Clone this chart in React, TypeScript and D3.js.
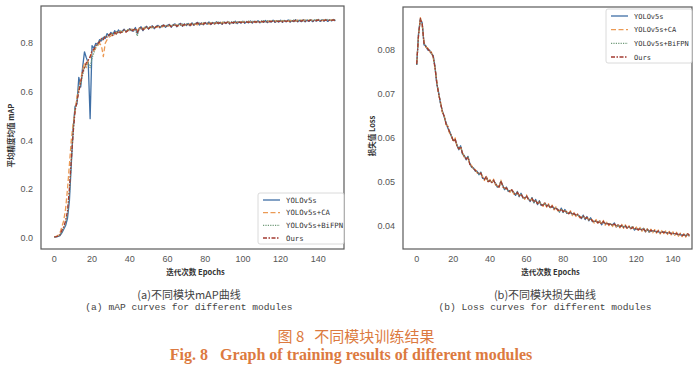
import React from "react";
import * as d3 from "d3";

const epochs: number[] = Array.from({ length: 150 }, (_, i) => i);
const seriesNames = ["YOLOv5s", "YOLOv5s+CA", "YOLOv5s+BiFPN", "Ours"];
const seriesColors = ["#3f6fa6", "#eb9a55", "#6f9a78", "#a23a30"];
const seriesDash = ["", "5,2.5", "1.2,1.2", "4,1.5,1.5,1.5"];

const xTicks = [0, 20, 40, 60, 80, 100, 120, 140];
const mapTicks = [0.0, 0.2, 0.4, 0.6, 0.8];
const lossTicks = [0.04, 0.05, 0.06, 0.07, 0.08];

const mapYolo = [0.002,0.003,0.005,0.008,0.020,0.035,0.050,0.080,0.150,0.300,
0.450,0.540,0.550,0.660,0.620,0.700,0.765,0.740,0.720,0.490,
0.790,0.780,0.800,0.795,0.815,0.810,0.825,0.820,0.840,0.830,
0.845,0.835,0.852,0.840,0.855,0.845,0.850,0.858,0.848,0.855,
0.860,0.852,0.850,0.865,0.840,0.862,0.868,0.852,0.864,0.870,
0.858,0.868,0.872,0.860,0.870,0.874,0.864,0.872,0.876,0.866,
0.874,0.878,0.866,0.876,0.880,0.868,0.878,0.882,0.870,0.880,
0.873,0.882,0.872,0.884,0.874,0.882,0.886,0.875,0.884,0.876,
0.886,0.878,0.888,0.877,0.886,0.879,0.889,0.880,0.887,0.878,
0.888,0.881,0.890,0.879,0.888,0.882,0.891,0.881,0.889,0.883,
0.891,0.882,0.890,0.884,0.892,0.883,0.891,0.885,0.893,0.884,
0.892,0.886,0.894,0.885,0.892,0.887,0.895,0.886,0.893,0.887,
0.895,0.886,0.894,0.888,0.896,0.887,0.894,0.889,0.897,0.888,
0.895,0.889,0.897,0.888,0.896,0.890,0.897,0.889,0.896,0.891,
0.898,0.890,0.897,0.891,0.898,0.890,0.897,0.892,0.898,0.892];

const mapCA = [0.003,0.005,0.010,0.020,0.045,0.070,0.120,0.200,0.300,0.400,
0.470,0.520,0.580,0.610,0.650,0.690,0.720,0.700,0.730,0.740,
0.760,0.770,0.780,0.790,0.800,0.790,0.745,0.800,0.815,0.825,
0.830,0.840,0.836,0.846,0.840,0.850,0.845,0.852,0.848,0.856,
0.850,0.858,0.854,0.860,0.852,0.862,0.858,0.864,0.860,0.866,
0.862,0.868,0.864,0.870,0.866,0.868,0.872,0.866,0.874,0.870,
0.868,0.874,0.872,0.870,0.876,0.874,0.872,0.878,0.875,0.873,
0.879,0.876,0.880,0.874,0.881,0.878,0.876,0.882,0.879,0.883,
0.880,0.884,0.878,0.885,0.882,0.880,0.886,0.883,0.881,0.887,
0.884,0.882,0.888,0.885,0.883,0.889,0.885,0.887,0.884,0.889,
0.886,0.890,0.885,0.890,0.887,0.891,0.886,0.890,0.888,0.892,
0.887,0.891,0.889,0.893,0.888,0.892,0.890,0.893,0.889,0.894,
0.890,0.893,0.891,0.895,0.890,0.894,0.892,0.895,0.891,0.896,
0.892,0.895,0.893,0.896,0.892,0.895,0.894,0.897,0.893,0.896,
0.894,0.897,0.893,0.896,0.895,0.897,0.894,0.896,0.895,0.897];

const mapBiFPN = [0.002,0.004,0.006,0.010,0.025,0.040,0.060,0.100,0.180,0.310,
0.440,0.530,0.560,0.620,0.630,0.670,0.700,0.710,0.720,0.700,
0.740,0.760,0.785,0.795,0.810,0.815,0.820,0.830,0.828,0.838,
0.836,0.842,0.840,0.848,0.844,0.850,0.846,0.854,0.850,0.856,
0.852,0.858,0.855,0.860,0.830,0.858,0.862,0.856,0.866,0.862,
0.864,0.868,0.862,0.870,0.866,0.871,0.868,0.873,0.869,0.872,
0.875,0.870,0.876,0.872,0.877,0.873,0.878,0.874,0.879,0.875,
0.880,0.876,0.881,0.877,0.882,0.878,0.881,0.883,0.879,0.884,
0.881,0.885,0.880,0.886,0.882,0.885,0.883,0.887,0.882,0.886,
0.884,0.888,0.883,0.887,0.885,0.889,0.884,0.888,0.886,0.890,
0.885,0.889,0.887,0.891,0.886,0.890,0.888,0.892,0.887,0.891,
0.889,0.893,0.888,0.892,0.890,0.893,0.889,0.894,0.890,0.893,
0.891,0.895,0.890,0.894,0.892,0.895,0.891,0.896,0.892,0.894,
0.893,0.896,0.892,0.895,0.894,0.897,0.893,0.896,0.894,0.897,
0.895,0.896,0.894,0.897,0.895,0.898,0.894,0.896,0.895,0.897];

const mapOurs = [0.003,0.004,0.006,0.012,0.030,0.045,0.070,0.110,0.200,0.320,
0.430,0.520,0.560,0.600,0.640,0.680,0.700,0.720,0.730,0.745,
0.770,0.775,0.790,0.800,0.805,0.820,0.815,0.830,0.825,0.835,
0.840,0.832,0.845,0.838,0.850,0.842,0.848,0.855,0.846,0.852,
0.858,0.850,0.856,0.862,0.845,0.860,0.866,0.855,0.862,0.868,
0.860,0.866,0.870,0.862,0.868,0.872,0.866,0.870,0.874,0.868,
0.872,0.876,0.868,0.874,0.878,0.870,0.876,0.880,0.872,0.878,
0.875,0.880,0.874,0.882,0.876,0.880,0.884,0.877,0.882,0.878,
0.884,0.880,0.886,0.879,0.884,0.881,0.887,0.882,0.885,0.880,
0.886,0.883,0.888,0.881,0.886,0.884,0.889,0.883,0.887,0.885,
0.889,0.884,0.888,0.886,0.890,0.885,0.889,0.887,0.891,0.886,
0.890,0.888,0.892,0.887,0.890,0.889,0.893,0.888,0.891,0.889,
0.893,0.888,0.892,0.890,0.894,0.889,0.892,0.891,0.895,0.890,
0.893,0.891,0.895,0.890,0.894,0.892,0.895,0.891,0.894,0.893,
0.896,0.892,0.895,0.893,0.896,0.892,0.895,0.894,0.896,0.894];

const lossYolo = [0.0766,0.0838,0.0870,0.0862,0.0812,0.0810,0.0800,0.0800,0.0792,0.0788,
0.0762,0.0722,0.0703,0.0678,0.0662,0.0648,0.0635,0.0622,0.0615,0.0603,
0.0594,0.0596,0.0584,0.0573,0.0582,0.0563,0.0560,0.0550,0.0558,0.0542,
0.0533,0.0532,0.0524,0.0524,0.0516,0.0522,0.0508,0.0507,0.0510,0.0502,
0.0501,0.0500,0.0502,0.0497,0.0488,0.0490,0.0500,0.0492,0.0482,0.0488,
0.0478,0.0480,0.0480,0.0476,0.0469,0.0478,0.0466,0.0474,0.0463,0.0464,
0.0466,0.0462,0.0455,0.0464,0.0452,0.0460,0.0448,0.0457,0.0446,0.0448,
0.0450,0.0446,0.0446,0.0442,0.0443,0.0440,0.0439,0.0438,0.0431,0.0440,
0.0430,0.0437,0.0428,0.0429,0.0430,0.0427,0.0426,0.0425,0.0424,0.0422,
0.0416,0.0424,0.0414,0.0421,0.0411,0.0418,0.0409,0.0410,0.0410,0.0408,
0.0411,0.0402,0.0408,0.0405,0.0405,0.0404,0.0403,0.0402,0.0406,0.0397,
0.0400,0.0399,0.0399,0.0398,0.0398,0.0396,0.0396,0.0395,0.0398,0.0390,
0.0393,0.0392,0.0392,0.0391,0.0394,0.0386,0.0393,0.0385,0.0388,0.0388,
0.0387,0.0387,0.0386,0.0385,0.0385,0.0386,0.0384,0.0384,0.0383,0.0383,
0.0382,0.0382,0.0381,0.0380,0.0379,0.0379,0.0378,0.0378,0.0380,0.0376];

const lossCA = [0.0770,0.0832,0.0874,0.0858,0.0818,0.0806,0.0805,0.0796,0.0796,0.0783,
0.0758,0.0727,0.0698,0.0682,0.0658,0.0652,0.0630,0.0627,0.0610,0.0607,
0.0590,0.0600,0.0580,0.0577,0.0578,0.0567,0.0556,0.0554,0.0554,0.0542,
0.0537,0.0528,0.0528,0.0520,0.0520,0.0518,0.0512,0.0503,0.0514,0.0498,
0.0505,0.0496,0.0506,0.0493,0.0492,0.0486,0.0504,0.0488,0.0486,0.0484,
0.0482,0.0476,0.0484,0.0472,0.0473,0.0474,0.0470,0.0470,0.0467,0.0460,
0.0470,0.0458,0.0459,0.0460,0.0456,0.0456,0.0452,0.0453,0.0450,0.0444,
0.0454,0.0442,0.0450,0.0438,0.0447,0.0436,0.0443,0.0434,0.0435,0.0436,
0.0434,0.0433,0.0432,0.0425,0.0434,0.0423,0.0430,0.0421,0.0428,0.0418,
0.0420,0.0420,0.0418,0.0417,0.0415,0.0414,0.0413,0.0406,0.0414,0.0404,
0.0411,0.0402,0.0412,0.0401,0.0409,0.0400,0.0407,0.0398,0.0406,0.0397,
0.0404,0.0395,0.0403,0.0394,0.0402,0.0392,0.0400,0.0391,0.0398,0.0390,
0.0397,0.0388,0.0396,0.0387,0.0394,0.0386,0.0393,0.0385,0.0392,0.0384,
0.0391,0.0383,0.0390,0.0381,0.0389,0.0382,0.0388,0.0380,0.0387,0.0379,
0.0386,0.0378,0.0385,0.0376,0.0383,0.0375,0.0382,0.0374,0.0384,0.0376];

const lossBiFPN = [0.0767,0.0836,0.0871,0.0861,0.0814,0.0809,0.0802,0.0799,0.0793,0.0786,
0.0761,0.0724,0.0701,0.0679,0.0661,0.0649,0.0633,0.0624,0.0613,0.0604,
0.0593,0.0597,0.0583,0.0574,0.0581,0.0564,0.0559,0.0551,0.0557,0.0541,
0.0534,0.0531,0.0525,0.0523,0.0517,0.0521,0.0509,0.0506,0.0511,0.0501,
0.0502,0.0499,0.0503,0.0496,0.0489,0.0489,0.0501,0.0491,0.0483,0.0487,
0.0479,0.0479,0.0481,0.0475,0.0470,0.0477,0.0467,0.0473,0.0464,0.0463,
0.0467,0.0461,0.0456,0.0463,0.0453,0.0459,0.0449,0.0456,0.0447,0.0447,
0.0451,0.0445,0.0447,0.0441,0.0444,0.0439,0.0440,0.0437,0.0432,0.0439,
0.0431,0.0436,0.0429,0.0428,0.0431,0.0426,0.0427,0.0424,0.0425,0.0421,
0.0417,0.0423,0.0415,0.0420,0.0412,0.0417,0.0410,0.0409,0.0411,0.0407,
0.0408,0.0405,0.0409,0.0404,0.0406,0.0403,0.0404,0.0401,0.0403,0.0400,
0.0401,0.0398,0.0400,0.0397,0.0399,0.0395,0.0397,0.0394,0.0397,0.0391,
0.0394,0.0391,0.0393,0.0390,0.0393,0.0387,0.0392,0.0386,0.0389,0.0387,
0.0388,0.0386,0.0387,0.0384,0.0386,0.0385,0.0385,0.0383,0.0384,0.0382,
0.0383,0.0381,0.0382,0.0379,0.0380,0.0378,0.0379,0.0377,0.0381,0.0377];

const lossOurs = [0.0768,0.0835,0.0872,0.0860,0.0815,0.0808,0.0803,0.0798,0.0794,0.0785,
0.0760,0.0725,0.0700,0.0680,0.0660,0.0650,0.0632,0.0625,0.0612,0.0605,
0.0592,0.0598,0.0582,0.0575,0.0580,0.0565,0.0558,0.0552,0.0556,0.0540,
0.0535,0.0530,0.0526,0.0522,0.0518,0.0520,0.0510,0.0505,0.0512,0.0500,
0.0503,0.0498,0.0504,0.0495,0.0490,0.0488,0.0502,0.0490,0.0484,0.0486,
0.0480,0.0478,0.0482,0.0474,0.0471,0.0476,0.0468,0.0472,0.0465,0.0462,
0.0468,0.0460,0.0457,0.0462,0.0454,0.0458,0.0450,0.0455,0.0448,0.0446,
0.0452,0.0444,0.0448,0.0440,0.0445,0.0438,0.0441,0.0436,0.0433,0.0438,
0.0432,0.0435,0.0430,0.0427,0.0432,0.0425,0.0428,0.0423,0.0426,0.0420,
0.0418,0.0422,0.0416,0.0419,0.0413,0.0416,0.0411,0.0408,0.0412,0.0406,
0.0409,0.0404,0.0410,0.0403,0.0407,0.0402,0.0405,0.0400,0.0404,0.0399,
0.0402,0.0397,0.0401,0.0396,0.0400,0.0394,0.0398,0.0393,0.0396,0.0392,
0.0395,0.0390,0.0394,0.0389,0.0392,0.0388,0.0391,0.0387,0.0390,0.0386,
0.0389,0.0385,0.0388,0.0383,0.0387,0.0384,0.0386,0.0382,0.0385,0.0381,
0.0384,0.0380,0.0383,0.0378,0.0381,0.0377,0.0380,0.0376,0.0382,0.0378];

const tickFont = "'Liberation Sans', Arial, sans-serif";
const cjkFont = "'Noto Sans CJK SC', 'DejaVu Sans', sans-serif";
const monoFont = "'DejaVu Sans Mono', 'Liberation Mono', monospace";

type PanelProps = {
  left: number; right: number; top: number; bottom: number;
  xDomain: [number, number]; yDomain: [number, number];
  yTicks: number[]; yFmt: (v: number) => string;
  series: number[][];
  yLabel: string; yLabelX: number;
  legend: { x: number; y: number; w: number; h: number; fs: number };
  capCn: string; capEn: string; capX: number;
};

function Panel(p: PanelProps) {
  const x = d3.scaleLinear().domain(p.xDomain).range([p.left, p.right]);
  const y = d3.scaleLinear().domain(p.yDomain).range([p.bottom, p.top]);
  const line = d3.line<number>().x((_, i) => x(epochs[i])).y((d) => y(d));
  const midX = (p.left + p.right) / 2;
  const midY = (p.top + p.bottom) / 2;
  const step = (p.legend.h - 13) / 3;
  return (
    <g>
      <defs>
        <clipPath id={`clip-${p.left}`}>
          <rect x={p.left} y={p.top} width={p.right - p.left} height={p.bottom - p.top} />
        </clipPath>
      </defs>
      <g clipPath={`url(#clip-${p.left})`}>
        {p.series.map((s, k) => (
          <path key={k} d={line(s) || ""} fill="none" stroke={seriesColors[k]}
            strokeWidth={1.3} strokeDasharray={seriesDash[k]} strokeLinejoin="round" />
        ))}
      </g>
      <rect x={p.left} y={p.top} width={p.right - p.left} height={p.bottom - p.top}
        fill="none" stroke="#5a5a5a" strokeWidth={1.2} />
      {xTicks.map((t) => (
        <text key={t} x={x(t)} y={p.bottom + 13} textAnchor="middle" fontSize={9}
          fontFamily={tickFont} fill="#555">{t}</text>
      ))}
      {p.yTicks.map((t) => (
        <text key={t} x={p.left - 8} y={y(t) + 3} textAnchor="end" fontSize={9}
          fontFamily={tickFont} fill="#555">{p.yFmt(t)}</text>
      ))}
      <text x={midX + 3} y={p.bottom + 26} textAnchor="middle" fontSize={7.5}
        fontWeight="bold" fontFamily={cjkFont} fill="#333">迭代次数 Epochs</text>
      <text transform={`translate(${p.yLabelX},${midY + 8}) rotate(-90)`} textAnchor="middle"
        fontSize={7.5} fontWeight="bold" fontFamily={cjkFont} fill="#333">{p.yLabel}</text>
      <g>
        <rect x={p.legend.x} y={p.legend.y} width={p.legend.w} height={p.legend.h}
          rx={2} fill="#fff" fillOpacity={0.85} stroke="#d0d0d0" strokeWidth={0.8} />
        {seriesNames.map((n, k) => {
          const ly = p.legend.y + 7 + k * step;
          return (
            <g key={n}>
              <line x1={p.legend.x + 5} x2={p.legend.x + 22} y1={ly} y2={ly}
                stroke={seriesColors[k]} strokeWidth={1.3} strokeDasharray={seriesDash[k]} />
              <text x={p.legend.x + 28} y={ly + 2.6} fontSize={p.legend.fs} fontFamily={monoFont}
                fill="#333">{n}</text>
            </g>
          );
        })}
      </g>
      <text x={p.capX} y={299} textAnchor="middle" fontSize={11} fontFamily={cjkFont}
        fill="#444">{p.capCn}</text>
      <text x={p.capX} y={310} textAnchor="middle" fontSize={9.6}
        fontFamily="'Liberation Mono', monospace" fill="#444">{p.capEn}</text>
    </g>
  );
}

export default function App() {
  return (
    <svg width={700} height={376} style={{ position: "absolute", left: 0, top: 0, background: "#fff" }}
      xmlns="http://www.w3.org/2000/svg">
      <rect x={0} y={0} width={700} height={376} fill="#fff" />
      <Panel left={41} right={344} top={6} bottom={249}
        xDomain={[-7.05, 153.6]} yDomain={[-0.0465, 0.9535]}
        yTicks={mapTicks} yFmt={(v) => v.toFixed(1)}
        series={[mapYolo, mapCA, mapBiFPN, mapOurs]}
        yLabel="平均精度均值 mAP" yLabelX={14}
        legend={{ x: 258, y: 193, w: 86, h: 51, fs: 7.3 }}
        capCn="(a)不同模块mAP曲线" capEn="(a) mAP curves for different modules" capX={189} />
      <Panel left={403} right={692} top={7} bottom={249}
        xDomain={[-7.49, 150.4]} yDomain={[0.03469, 0.08982]}
        yTicks={lossTicks} yFmt={(v) => v.toFixed(2)}
        series={[lossYolo, lossCA, lossBiFPN, lossOurs]}
        yLabel="损失值 Loss" yLabelX={375}
        legend={{ x: 606, y: 9, w: 86, h: 54, fs: 7 }}
        capCn="(b)不同模块损失曲线" capEn="(b) Loss curves for different modules" capX={545} />
      <text x={356} y={342} textAnchor="middle" fontSize={15} fontFamily={cjkFont}
        fill="#dc7a40" xmlSpace="preserve">图 8   不同模块训练结果</text>
      <text x={351} y={360} textAnchor="middle" fontSize={16} fontWeight="bold"
        fontFamily="'Liberation Serif', 'Times New Roman', serif" fill="#dc7a40" xmlSpace="preserve">Fig. 8   Graph of training results of different modules</text>
    </svg>
  );
}
